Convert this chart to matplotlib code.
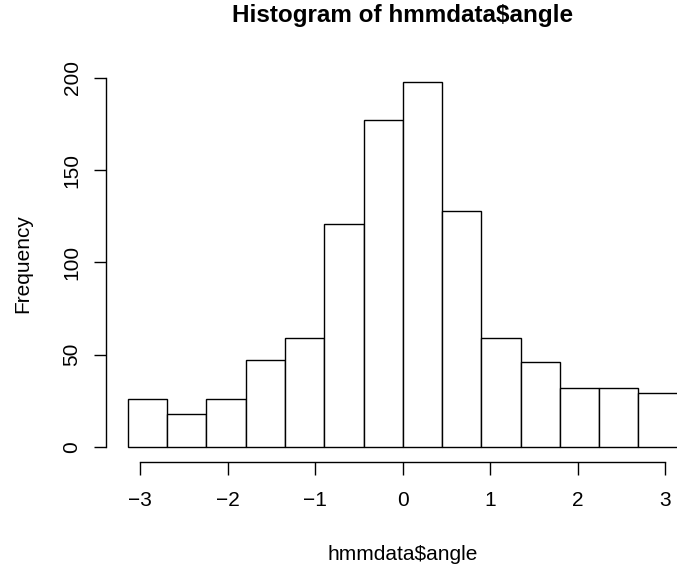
import numpy as np
import matplotlib
matplotlib.use("Agg")
import matplotlib.pyplot as plt

plt.rcParams["font.family"] = ["Liberation Sans", "DejaVu Sans"]

# bin counts, 14 bins from -pi to pi
counts = [26, 18, 26, 47, 59, 121, 177, 198, 128, 59, 46, 32, 32, 29]
edges = np.linspace(-np.pi, np.pi, len(counts) + 1)
xticks = [-3, -2, -1, 0, 1, 2, 3]
yticks = [0, 50, 100, 150, 200]

W, H = 677, 565
fig = plt.figure(figsize=(W / 100, H / 100), dpi=100)
# plot region in pixels (R style, runs past the right edge of the picture)
left, right, top, bottom = 105.9, 699.7, 66.9, 461.6
ax = fig.add_axes([left / W, 1 - bottom / H, (right - left) / W, (bottom - top) / H])

ax.bar(edges[:-1], counts, width=np.diff(edges), align="edge",
       facecolor="white", edgecolor="black", linewidth=1.0)

xr = edges[-1] - edges[0]
ax.set_xlim(edges[0] - 0.04 * xr, edges[-1] + 0.04 * xr)
ax.set_ylim(-0.04 * max(counts), max(counts) * 1.04)

ax.spines["top"].set_visible(False)
ax.spines["right"].set_visible(False)
ax.spines["bottom"].set_bounds(-3, 3)
ax.spines["left"].set_bounds(0, 200)
ax.spines["bottom"].set_linewidth(1.0)
ax.spines["left"].set_linewidth(1.0)

ax.set_xticks(xticks)
ax.set_xticklabels(["\u22123", "\u22122", "\u22121", "0", "1", "2", "3"])
ax.set_yticks(yticks)
ax.set_yticklabels([str(v) for v in yticks], rotation=90, va="center")
ax.tick_params(direction="out", length=9, width=1.0, labelsize=15)
ax.tick_params(axis="x", pad=12.5)
ax.tick_params(axis="y", pad=8.5)

fig.text((left + right) / 2 / W, 1 - 15.5 / H, "Histogram of hmmdata$angle",
         ha="center", va="center", fontsize=17.5, fontweight="bold")
fig.text((left + right) / 2 / W, 1 - 554 / H, "hmmdata$angle",
         ha="center", va="center", fontsize=15)
fig.text(22.5 / W, 1 - 264 / H, "Frequency", ha="center", va="center",
         rotation=90, fontsize=15)

fig.savefig("out.png", dpi=100)
